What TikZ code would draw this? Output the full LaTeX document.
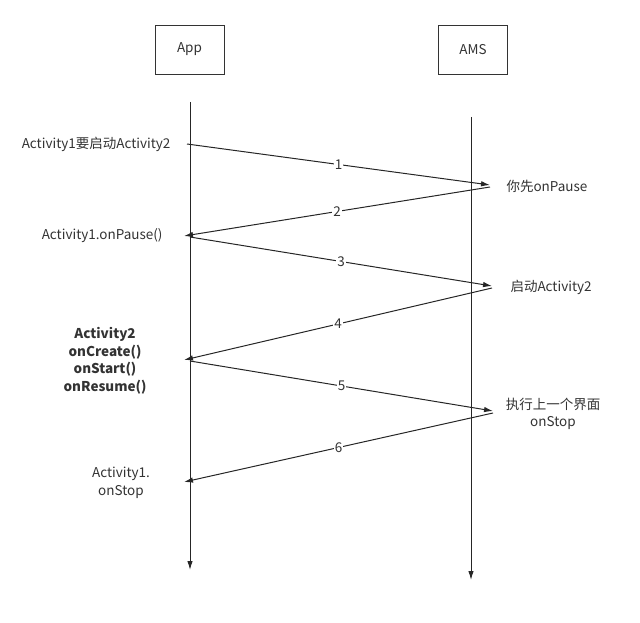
\documentclass[tikz,border=0pt]{standalone}
\usepackage{fontspec}
\setmainfont{Noto Sans CJK SC}
\usetikzlibrary{arrows.meta, positioning}

\begin{document}
\begin{tikzpicture}[x=1pt, y=-1pt,
    every node/.style={font=\fontsize{13.5}{17.5}\selectfont, text=black!80},
    actor/.style={draw=black!80, line width=0.9pt, minimum width=69pt, minimum height=49pt},
    life/.style={draw=black!85, line width=1pt, -{Latex[length=9pt, width=5.5pt]}},
    msg/.style={draw=black!85, line width=1pt, -{Latex[length=9pt, width=5.5pt]}},
    num/.style={fill=white, inner sep=1pt}]
        \useasboundingbox (0,0) rectangle (640,623);

        % actors and lifelines
        \node[actor] (app) at (189.5,49.5) {App};
        \node[actor] (ams) at (473,49.5) {AMS};
        \coordinate (appTop) at (190,102);
        \coordinate (appEnd) at (190,570);
        \coordinate (amsTop) at (471,117);
        \coordinate (amsEnd) at (471,580);
        \draw[life] (appTop) -- (appEnd);
        \draw[life] (amsTop) -- (amsEnd);

        % message ends
        \coordinate (s1) at (187,144);
        \coordinate (e1) at (490,185);
        \coordinate (s2) at (490,187);
        \coordinate (e2) at (184,236);
        \coordinate (s3) at (190,237);
        \coordinate (e3) at (492,286);
        \coordinate (s4) at (492,288);
        \coordinate (e4) at (184,360);
        \coordinate (s5) at (190,361);
        \coordinate (e5) at (493,411);
        \coordinate (s6) at (493,413);
        \coordinate (e6) at (184,482);

        \draw[msg] (s1) -- node[num] {1} (e1);
        \draw[msg] (s2) -- node[num] {2} (e2);
        \draw[msg] (s3) -- node[num] {3} (e3);
        \draw[msg] (s4) -- node[num] {4} (e4);
        \draw[msg] (s5) -- node[num] {5} (e5);
        \draw[msg] (s6) -- node[num] {6} (e6);

        % notes
        \node[anchor=east] (start) at (174,144) {Activity1要启动Activity2};
        \node[anchor=east] (pause) at (166,236) {Activity1.onPause()};
        \node[anchor=west] (askpause) at (503,186) {你先onPause};
        \node[anchor=west] (launch) at (507,287) {启动Activity2};
        \node[align=center, font=\fontsize{13.5}{17.5}\selectfont\bfseries] (create) at (105,361)
            {Activity2\\onCreate()\\onStart()\\onResume()};
        \node[align=center] (askstop) at (553,414) {执行上一个界面\\onStop};
        \node[align=center] (stop) at (121,483) {Activity1.\\onStop};
    \end{tikzpicture}
\end{document}
